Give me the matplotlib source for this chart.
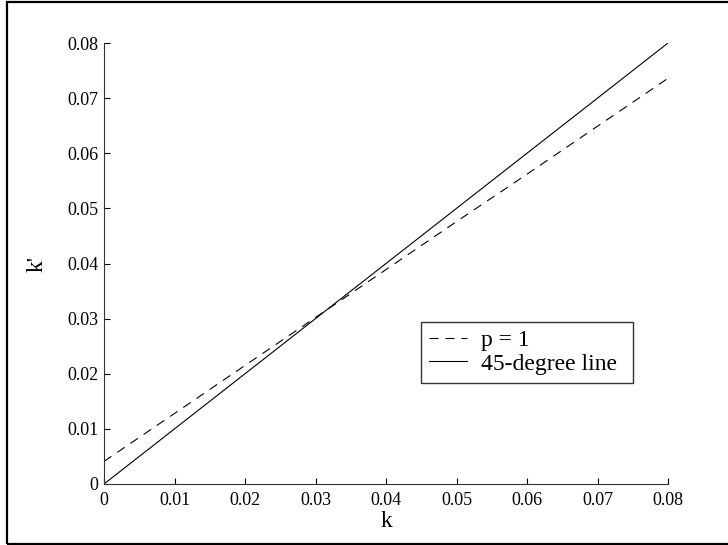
import matplotlib
matplotlib.use("Agg")
import matplotlib.pyplot as plt
from matplotlib.patches import Rectangle

plt.rcParams['font.family'] = ['Liberation Serif', 'DejaVu Serif']
plt.rcParams['lines.scale_dashes'] = False

k = [0.0, 0.01, 0.02, 0.03, 0.04, 0.05, 0.06, 0.07, 0.08]
k_next_p1 = [0.0041, 0.0128, 0.0215, 0.0302, 0.0389, 0.0476, 0.0562, 0.0649, 0.0736]
k_45 = [0.0, 0.01, 0.02, 0.03, 0.04, 0.05, 0.06, 0.07, 0.08]
ticks = [0, 0.01, 0.02, 0.03, 0.04, 0.05, 0.06, 0.07, 0.08]
tick_labels = ['0', '0.01', '0.02', '0.03', '0.04', '0.05', '0.06', '0.07', '0.08']

W, H = 728, 545
fig = plt.figure(figsize=(W / 100, H / 100), dpi=100)
ax = fig.add_axes([104 / W, 61 / H, 564 / W, 441 / H])

ax.plot(k, k_next_p1, color='black', lw=0.8, dashes=(6.5, 5), label='p = 1')
ax.plot(k, k_45, color='black', lw=0.8, label='45-degree line')

ax.set_xlim(0, 0.08)
ax.set_ylim(0, 0.08)
ax.set_xticks(ticks)
ax.set_xticklabels(tick_labels)
ax.set_yticks(ticks)
ax.set_yticklabels(tick_labels)
ax.tick_params(direction='in', length=4.5, width=0.8, labelsize=13, colors='black')
ax.tick_params(axis='x', pad=6)
ax.tick_params(axis='y', pad=4)
for s in ['top', 'right']:
    ax.spines[s].set_visible(False)
for s in ['left', 'bottom']:
    ax.spines[s].set_linewidth(0.8)
    ax.spines[s].set_color('#333333')

ax.set_xlabel('k', fontsize=17, labelpad=1)
ax.set_ylabel("k'", fontsize=17, labelpad=14)

leg = ax.legend(loc='lower left', bbox_to_anchor=((421 - 104) / 564, (484 - 383) / 441,
                                                   (633 - 421) / 564, (383 - 321) / 441),
                mode='expand', fontsize=17, frameon=True, fancybox=False,
                edgecolor='black', handlelength=1.6, borderpad=0.35, labelspacing=0.08,
                handletextpad=0.6, borderaxespad=0)
leg.get_frame().set_linewidth(1.0)

fig.patches.append(Rectangle((7 / W, 1 / H), 740 / W, 542 / H, transform=fig.transFigure,
                             fill=False, edgecolor='black', lw=1.6, clip_on=False))

fig.savefig('out.png', dpi=100, facecolor='white')
